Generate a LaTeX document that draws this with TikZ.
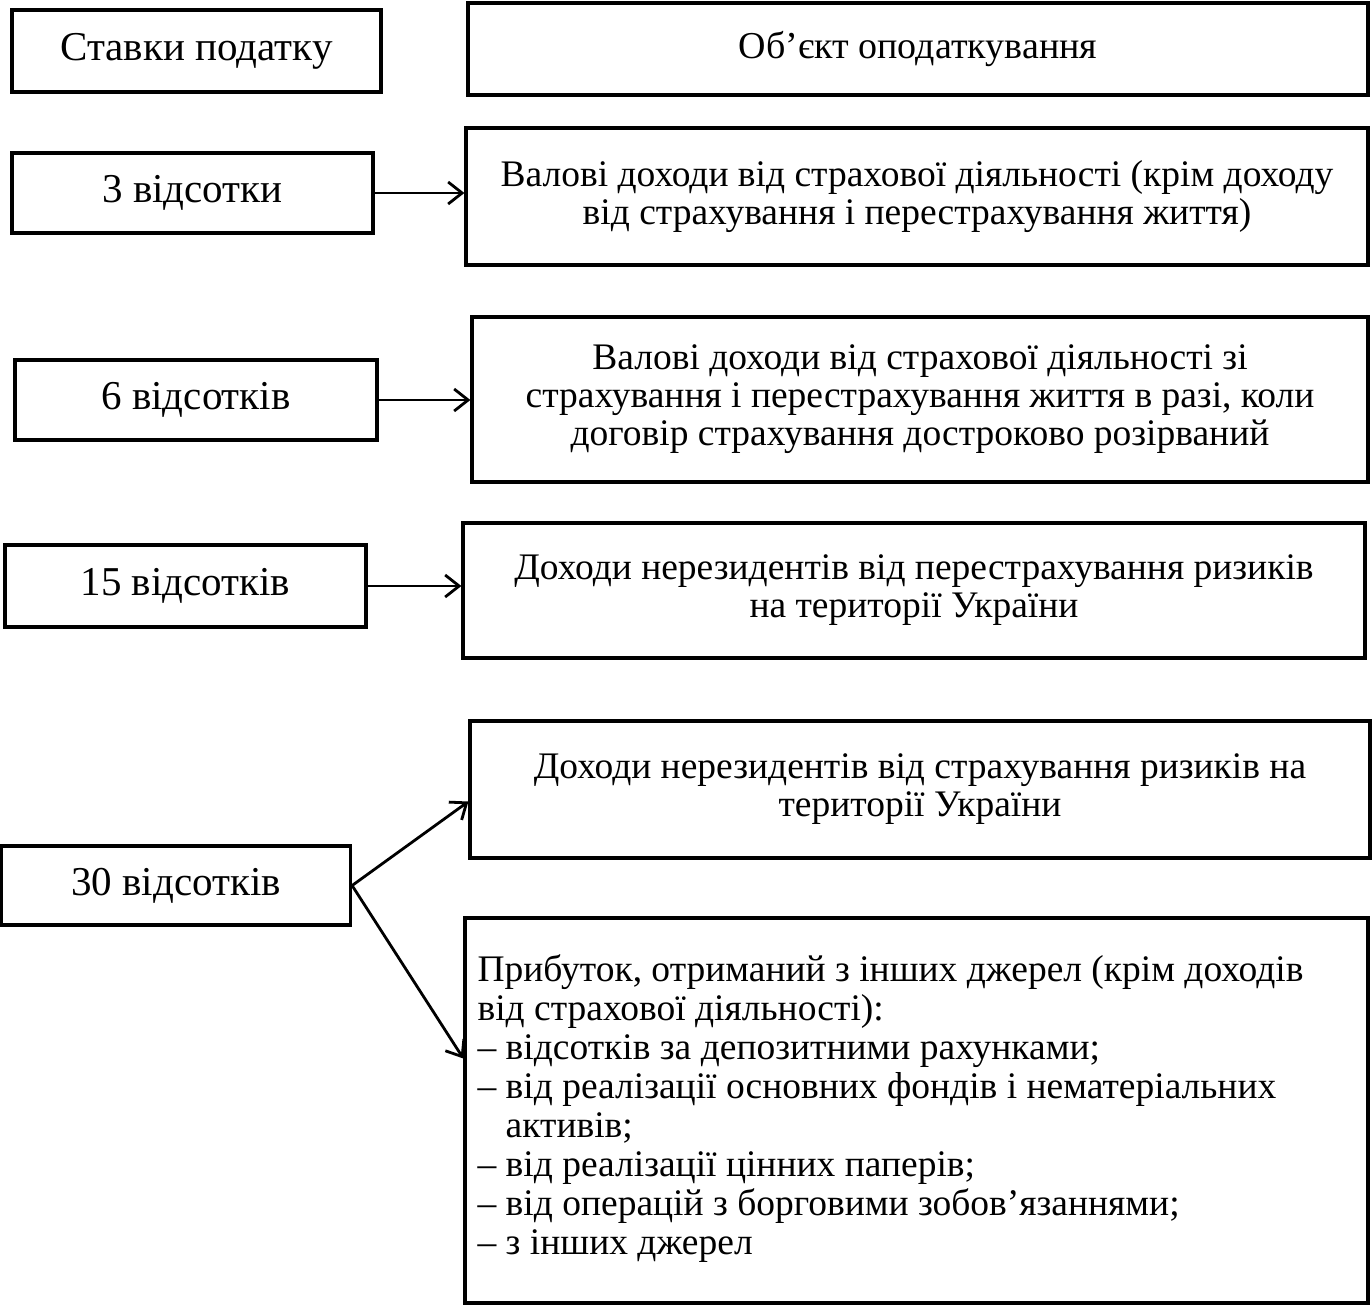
\documentclass[tikz,border=0pt]{standalone}
\usepackage{fontspec}
\setmainfont{Liberation Serif}
\usetikzlibrary{arrows.meta,calc}
\begin{document}
\begin{tikzpicture}[x=1pt,y=-1pt,
  box/.style={draw,line width=3.2pt,rectangle,inner sep=0pt,align=center,font=\fontsize{37.5}{38}\selectfont},
  lab/.style={font=\fontsize{41}{44}\selectfont},
  arr/.style={line width=2.8pt,-{Straight Barb[length=14pt,width=22pt,line width=2.8pt]}}]
\useasboundingbox (0,0) rectangle (1372,1307);
\node[box,lab,minimum width=369pt,minimum height=82pt] (h1) at (196.5,51) {Ставки податку};
\node[box,minimum width=900pt,minimum height=92pt] (h2) at (918,49) {\fontsize{38}{40}\selectfont Об’єкт оподаткування};
\node[box,lab,minimum width=361pt,minimum height=80pt] (l1) at (192.5,193) {3 відсотки};
\node[box,minimum width=902pt,minimum height=137pt] (r1) at (917,196.5) {Валові доходи від страхової діяльності (крім доходу\\від страхування і перестрахування життя)};
\node[box,lab,minimum width=362pt,minimum height=80pt] (l2) at (196,400) {6 відсотків};
\node[box,minimum width=896pt,minimum height=165pt] (r2) at (920,399.5) {Валові доходи від страхової діяльності зі\\страхування і перестрахування життя в разі, коли\\договір страхування достроково розірваний};
\node[box,lab,minimum width=361pt,minimum height=82pt] (l3) at (185.5,586) {15 відсотків};
\node[box,minimum width=902pt,minimum height=135pt] (r3) at (914,590.5) {Доходи нерезидентів від перестрахування ризиків\\на території України};
\node[box,minimum width=900pt,minimum height=137pt] (r4) at (920,789.5) {Доходи нерезидентів від страхування ризиків на\\території України};
\node[box,lab,minimum width=349pt,minimum height=79pt] (l4) at (176,885.5) {30 відсотків};
\node[box,minimum width=903pt,minimum height=385pt] (r5) at (916.5,1110.5) {};
\node[font=\fontsize{37.5}{39}\selectfont,align=left,anchor=west,inner sep=0pt] (t5) at ($(r5.west)+(14,-2)$) {Прибуток, отриманий з інших джерел (крім доходів\\від страхової діяльності):\\– відсотків за депозитними рахунками;\\– від реалізації основних фондів і нематеріальних\\\hspace*{0.75em}активів;\\– від реалізації цінних паперів;\\– від операцій з борговими зобов’язаннями;\\– з інших джерел};
\draw[arr] (l1.east) -- (l1.east -| r1.west);
\draw[arr] (l2.east) -- (l2.east -| r2.west);
\draw[arr] (l3.east) -- (l3.east -| r3.west);
\draw[arr] (l4.east) -- ([yshift=-12pt]r4.west);
\draw[arr] (l4.east) -- ([yshift=52pt]r5.west);
\end{tikzpicture}
\end{document}
